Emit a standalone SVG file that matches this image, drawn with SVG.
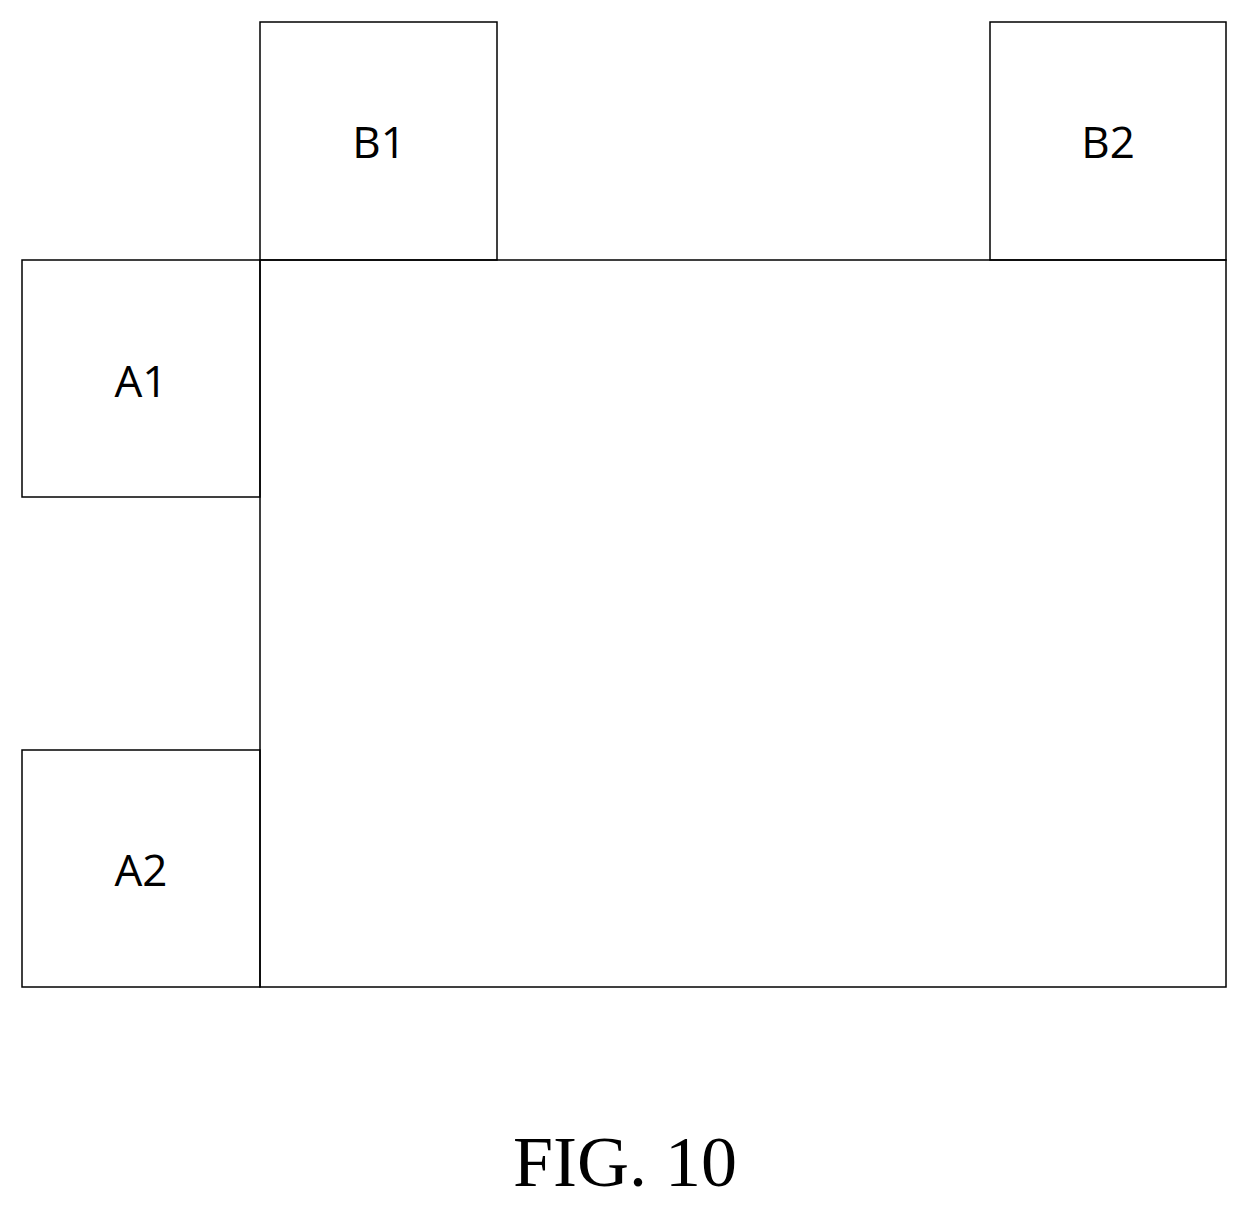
<svg xmlns="http://www.w3.org/2000/svg" width="1249" height="1207" viewBox="0 0 1249 1207">
<style>
rect{fill:none;stroke:#000;stroke-width:1.5}
.l{font-family:"Open Sans","Liberation Sans",sans-serif;font-size:44px;text-anchor:middle}
.c{font-family:"Liberation Serif",serif;font-size:72px;text-anchor:middle}
</style>
<rect width="1249" height="1207" fill="#fff" stroke="none" style="fill:#fff;stroke:none"/>
<g id="main"><rect x="260" y="260" width="966" height="727"/></g>
<g id="B1"><rect x="260" y="22" width="237" height="238"/><text class="l" x="379" y="158">B1</text></g>
<g id="B2"><rect x="990" y="22" width="236" height="238"/><text class="l" x="1108" y="158">B2</text></g>
<g id="A1"><rect x="22" y="260" width="238" height="237"/><text class="l" x="141" y="397">A1</text></g>
<g id="A2"><rect x="22" y="750" width="238" height="237"/><text class="l" x="141" y="886">A2</text></g>
<g id="connectors"></g>
<text class="c" x="625" y="1186">FIG. 10</text>
</svg>
